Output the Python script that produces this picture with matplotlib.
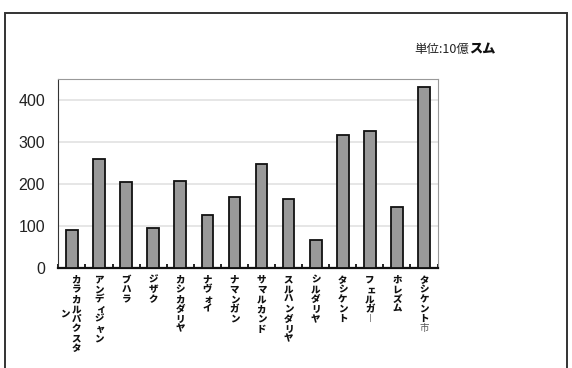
import numpy as np
import matplotlib
matplotlib.use('Agg')
from matplotlib import pyplot as plt
from matplotlib.patches import Rectangle

# Data -----------------------------------------------------------------
regions = [
    'カラカルパクスタン', 'アンディジャン', 'ブハラ', 'ジザク', 'カシカダリヤ',
    'ナヴォイ', 'ナマンガン', 'サマルカンド', 'スルハンダリヤ', 'シルダリヤ',
    'タシケント', 'フェルガー', 'ホレズム', 'タシケント市'
]
values = [90, 260, 205, 95, 206, 126, 168, 247, 164, 67, 317, 326, 144, 430]
y_ticks = [0, 100, 200, 300, 400]
unit_label = '単位:10億'
unit_bold = 'スム'

JP = ['Noto Sans CJK JP', 'DejaVu Sans']
SMALL_KANA = 'ャュョァィゥェォッ'
VERTICAL_FORMS = {'ー': '︱'}

fig = plt.figure(figsize=(5.72, 3.68), dpi=100)
ax = fig.add_axes([0.102, 0.2726, 0.663, 0.512])

x = np.arange(len(regions))
ax.bar(x, values, width=0.43, color='#999999', edgecolor='#111111', linewidth=1.3, zorder=3)

ax.set_xlim(-0.5, len(regions) - 0.5)
ax.set_ylim(0, 449)
ax.set_yticks(y_ticks)
ax.set_yticklabels([str(v) for v in y_ticks], family='Liberation Sans', fontsize=11.5, color='#222222')
ax.tick_params(axis='y', length=0, pad=9.5)
ax.grid(axis='y', color='#e2e2e2', linewidth=1.2, zorder=0)

# category boundary ticks
ax.set_xticks([])
ax.set_xticks(np.arange(-0.5, len(regions)), minor=True)
ax.tick_params(axis='x', which='minor', direction='in', length=3, width=1.3, color='#111111')

ax.spines['left'].set_color('#333333')
ax.spines['bottom'].set_color('#111111')
ax.spines['bottom'].set_linewidth(1.6)
ax.spines['top'].set_color('#999999')
ax.spines['right'].set_color('#999999')

# Vertical (stacked) category labels
step = 7.05
start = 5.0


def draw_column(xi, text, dx, row0=0.0):
    for j, ch in enumerate(text):
        ch_draw = VERTICAL_FORMS.get(ch, ch)
        ox = dx + (1.0 if ch in SMALL_KANA else 0.0)
        if ch == '市':
            weight, color = 'normal', '#555555'
        else:
            weight, color = 'heavy', '#111111'
        ax.annotate(ch_draw, xy=(xi, 0), xycoords=('data', 'axes fraction'),
                    xytext=(ox, -start - (row0 + j) * step), textcoords='offset points',
                    ha='center', va='top', fontsize=6.8, family=JP,
                    fontweight=weight, color=color, annotation_clip=False)


for i, name in enumerate(regions):
    if len(name) > 8:
        draw_column(i, name[:8], 3.0)
        draw_column(i, name[8:], -4.8, row0=3.5)
    else:
        draw_column(i, name, 0)

# unit text
fig.text(469 / 572, 1 - 49 / 368, unit_label, ha='right', va='center',
         fontsize=9, family=JP, color='#222222')
fig.text(469 / 572, 1 - 49 / 368, unit_bold, ha='left', va='center',
         fontsize=9.5, family=JP, fontweight='heavy', color='#111111')

# outer frame
fig.patches.append(Rectangle((5 / 572, -0.05), 562 / 572, 1.05 - 13 / 368,
                             transform=fig.transFigure, fill=False,
                             edgecolor='#333333', linewidth=1.4))

plt.savefig('out.png', dpi=100)
